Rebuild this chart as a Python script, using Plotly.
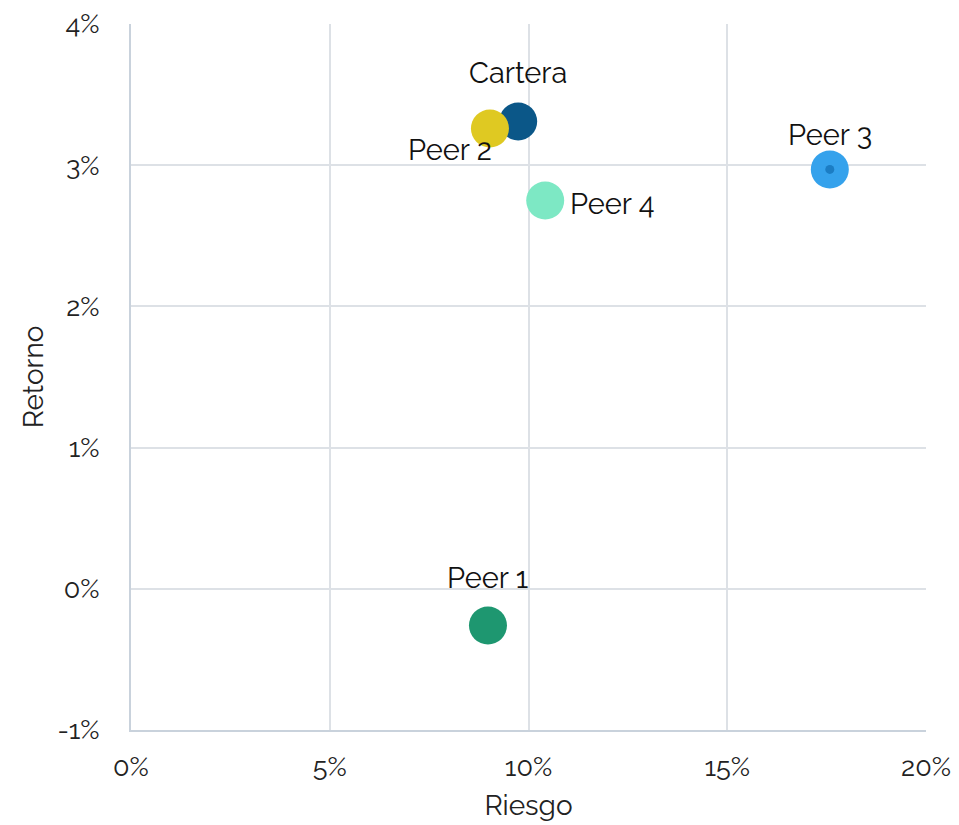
import plotly.graph_objects as go

names = ["Cartera", "Peer 1", "Peer 2", "Peer 3", "Peer 4"]
riesgo = [9.74, 8.98, 9.03, 17.58, 10.42]      # %
retorno = [3.31, -0.26, 3.26, 2.97, 2.75]      # %
colors = ["#0b5788", "#1e9770", "#dfc922", "#35a2ec", "#7de8c4"]

x_ticks = [0, 5, 10, 15, 20]
x_ticktext = ["0%", "5%", "10%", "15%", "20%"]
y_ticks = [-1, 0, 1, 2, 3, 4]
y_ticktext = ["-1%", "0%", "1%", "2%", "3%", "4%"]

# label placement (style): xshift, yshift, xanchor
label_style = {
    "Cartera": (0, 48, "center"),
    "Peer 1": (0, 48, "center"),
    "Peer 2": (4, -22, "right"),
    "Peer 3": (0, 34, "center"),
    "Peer 4": (23, -3, "left"),
}

FONT = "Raleway, Lato, 'Open Sans', sans-serif"

fig = go.Figure()
fig.add_trace(go.Scatter(
    x=riesgo, y=retorno, mode="markers",
    marker=dict(size=38, color=colors, line=dict(width=0), opacity=1),
    hoverinfo="skip", showlegend=False,
))
# inner dot on Peer 3
i3 = names.index("Peer 3")
fig.add_trace(go.Scatter(
    x=[riesgo[i3]], y=[retorno[i3]], mode="markers",
    marker=dict(size=9, color="#1b7dc4"), hoverinfo="skip", showlegend=False,
))

for n, xv, yv in zip(names, riesgo, retorno):
    xs, ys, xa = label_style[n]
    fig.add_annotation(x=xv, y=yv, text=n, showarrow=False,
                       xanchor=xa, yanchor="middle", xshift=xs, yshift=ys,
                       font=dict(family=FONT, size=29, color="#111111"))

fig.update_layout(
    width=959, height=825,
    margin=dict(l=131, r=33, t=24, b=95, autoexpand=False),
    paper_bgcolor="white", plot_bgcolor="white",
    font=dict(family=FONT, size=27, color="#222222"),
    xaxis=dict(range=[0, 20], tickvals=x_ticks, ticktext=x_ticktext,
               showgrid=True, gridcolor="#dde1e6", gridwidth=1.5,
               zeroline=False, showline=True, linecolor="#c9d2dc", linewidth=2,
               ticks="", ticklabelstandoff=12, automargin=False,
               title=dict(text="Riesgo", font=dict(family=FONT, size=28), standoff=14)),
    yaxis=dict(range=[-1, 4], tickvals=y_ticks, ticktext=y_ticktext,
               showgrid=True, gridcolor="#dde1e6", gridwidth=1.5,
               zeroline=False, showline=True, linecolor="#c9d2dc", linewidth=2,
               ticks="", ticklabelstandoff=24, automargin=False,
               title=dict(text="Retorno", font=dict(family=FONT, size=28), standoff=6)),
)

fig.write_html("out.html")
